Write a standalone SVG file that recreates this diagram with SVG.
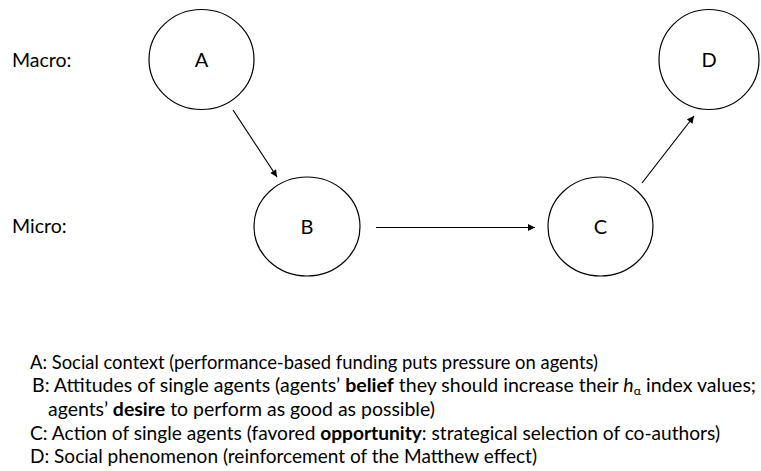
<svg xmlns="http://www.w3.org/2000/svg" width="761" height="471" viewBox="0 0 761 471">
<style>
.node ellipse{fill:#fff;stroke:#000;stroke-width:1.2}
.lbl{font-family:Lato,"Liberation Sans",sans-serif;font-size:19.5px;fill:#000}
.nl{font-family:Lato,"Liberation Sans",sans-serif;font-size:20px;fill:#000;text-anchor:middle}
.leg{font-family:Lato,"Liberation Sans",sans-serif;font-size:19px;fill:#000}
.conn line{stroke:#000;stroke-width:1.2;marker-end:url(#ah)}
.b{font-weight:bold}
</style>
<defs>
<marker id="ah" viewBox="0 0 10 10" refX="10" refY="5" markerWidth="8" markerHeight="7" markerUnits="userSpaceOnUse" orient="auto">
<path d="M0,0 L10,5 L0,10 z" fill="#000"/>
</marker>
</defs>
<rect width="761" height="471" fill="#fff"/>
<text class="lbl" x="12" y="67">Macro:</text>
<text class="lbl" x="12" y="233">Micro:</text>
<g id="A" class="node"><ellipse cx="201.5" cy="59.5" rx="52.5" ry="50"/><text class="nl" x="201.5" y="67">A</text></g>
<g id="B" class="node"><ellipse cx="307" cy="226.5" rx="53" ry="49.5"/><text class="nl" x="307" y="234">B</text></g>
<g id="C" class="node"><ellipse cx="600.5" cy="226.5" rx="52.5" ry="49.5"/><text class="nl" x="600.5" y="234">C</text></g>
<g id="D" class="node"><ellipse cx="709" cy="59.5" rx="50" ry="50"/><text class="nl" x="709" y="67">D</text></g>
<g id="connectors" class="conn">
<line x1="233" y1="110" x2="277" y2="177"/>
<line x1="376" y1="227.5" x2="535" y2="227.5"/>
<line x1="642" y1="183" x2="694" y2="116"/>
</g>
<g id="legend">
<text class="leg" x="30" y="369" textLength="568" lengthAdjust="spacingAndGlyphs">A: Social context (performance-based funding puts pressure on agents)</text>
<text class="leg" x="32" y="392" textLength="724" lengthAdjust="spacingAndGlyphs">B: Attitudes of single agents (agents’ <tspan class="b">belief</tspan> they should increase their <tspan font-style="italic">h</tspan><tspan font-size="12" dy="3">α</tspan><tspan dy="-3"> index values;</tspan></text>
<text class="leg" x="48" y="416" textLength="387" lengthAdjust="spacingAndGlyphs">agents’ <tspan class="b">desire</tspan> to perform as good as possible)</text>
<text class="leg" x="30" y="440" textLength="690" lengthAdjust="spacingAndGlyphs">C: Action of single agents (favored <tspan class="b">opportunity</tspan>: strategical selection of co-authors)</text>
<text class="leg" x="30" y="463" textLength="507" lengthAdjust="spacingAndGlyphs">D: Social phenomenon (reinforcement of the Matthew effect)</text>
</g>
</svg>
